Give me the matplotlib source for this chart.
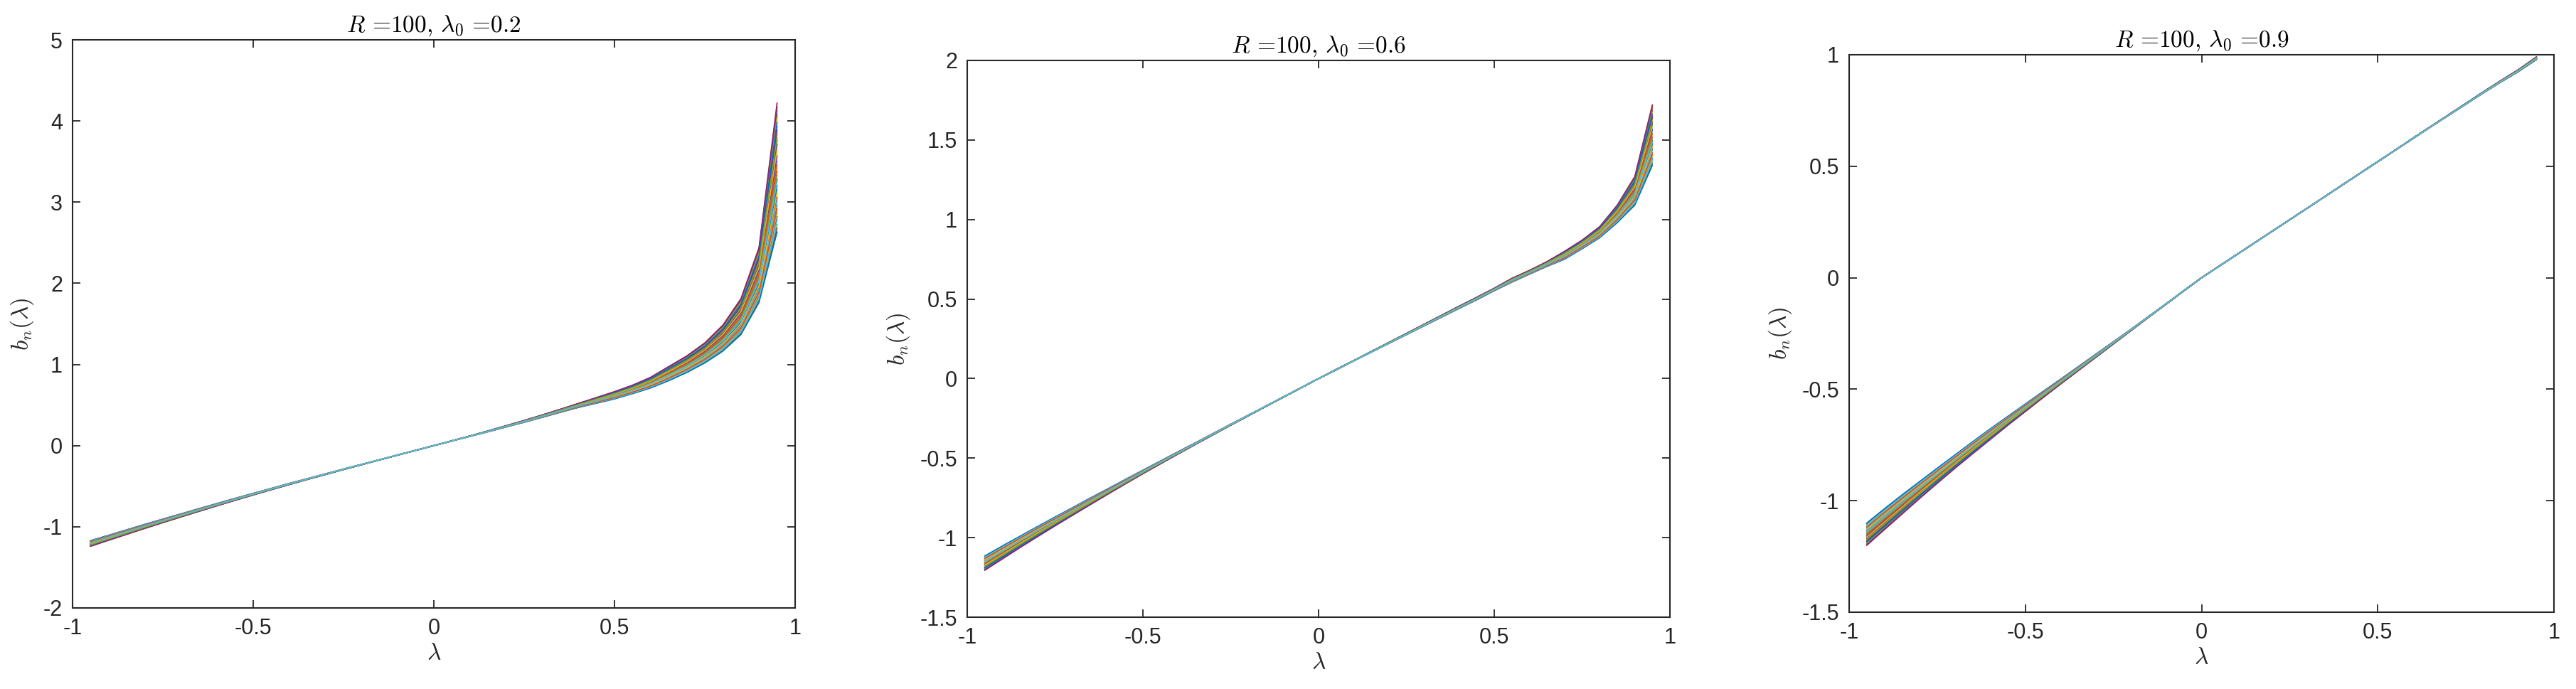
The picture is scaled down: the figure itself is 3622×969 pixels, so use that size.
import matplotlib
matplotlib.use("Agg")
import matplotlib.pyplot as plt
import numpy as np
from matplotlib.ticker import FuncFormatter, MultipleLocator

# ---------------- data ----------------
lam = [-0.95, -0.90, -0.85, -0.80, -0.75, -0.70, -0.65, -0.60, -0.55, -0.50,
       -0.45, -0.40, -0.35, -0.30, -0.25, -0.20, -0.15, -0.10, -0.05, 0.00,
       0.05, 0.10, 0.15, 0.20, 0.25, 0.30, 0.35, 0.40, 0.45, 0.50,
       0.55, 0.60, 0.65, 0.70, 0.75, 0.80, 0.85, 0.90, 0.95]

titles = [r"$R$ =100, $\lambda_0$ =0.2", r"$R$ =100, $\lambda_0$ =0.6", r"$R$ =100, $\lambda_0$ =0.9"]

# panel 1 (lambda0 = 0.2): lowest (A) and highest (B) curve of the family at the right end
p1_A = [-1.17, -1.104, -1.037, -0.970, -0.905, -0.841, -0.776, -0.713, -0.650, -0.588,
        -0.527, -0.466, -0.407, -0.348, -0.289, -0.231, -0.174, -0.115, -0.058, 0.0,
        0.057, 0.114, 0.171, 0.229, 0.288, 0.348, 0.410, 0.470, 0.522, 0.575,
        0.640, 0.710, 0.800, 0.900, 1.018, 1.164, 1.368, 1.763, 2.63]
p1_B = [-1.24, -1.166, -1.093, -1.020, -0.949, -0.879, -0.810, -0.741, -0.674, -0.608,
        -0.543, -0.480, -0.417, -0.356, -0.295, -0.235, -0.176, -0.117, -0.058, 0.0,
        0.059, 0.119, 0.181, 0.245, 0.310, 0.378, 0.448, 0.520, 0.592, 0.665,
        0.745, 0.842, 0.974, 1.105, 1.266, 1.485, 1.81, 2.44, 4.22]

# panel 2 (lambda0 = 0.6)
p2_A = [-1.115, -1.052, -0.991, -0.930, -0.870, -0.811, -0.751, -0.693, -0.634, -0.576,
        -0.518, -0.460, -0.403, -0.345, -0.287, -0.230, -0.173, -0.115, -0.058, 0.0,
        0.055, 0.111, 0.166, 0.221, 0.276, 0.331, 0.386, 0.441, 0.495, 0.552,
        0.606, 0.656, 0.705, 0.750, 0.816, 0.885, 0.98, 1.09, 1.34]
p2_B = [-1.205, -1.134, -1.063, -0.994, -0.926, -0.859, -0.793, -0.727, -0.662, -0.598,
        -0.536, -0.474, -0.413, -0.353, -0.293, -0.234, -0.175, -0.117, -0.058, 0.0,
        0.057, 0.113, 0.170, 0.227, 0.284, 0.341, 0.398, 0.455, 0.511, 0.568,
        0.630, 0.680, 0.735, 0.800, 0.870, 0.955, 1.09, 1.27, 1.72]

# panel 3 (lambda0 = 0.9)
p3_A = [-1.10, -1.036, -0.974, -0.914, -0.854, -0.795, -0.736, -0.678, -0.622, -0.566,
        -0.510, -0.455, -0.399, -0.343, -0.287, -0.231, -0.173, -0.116, -0.057, 0.0,
        0.052, 0.104, 0.156, 0.208, 0.260, 0.312, 0.364, 0.416, 0.468, 0.520,
        0.572, 0.624, 0.676, 0.727, 0.778, 0.829, 0.878, 0.925, 0.978]
p3_B = [-1.20, -1.130, -1.060, -0.990, -0.922, -0.855, -0.790, -0.726, -0.662, -0.600,
        -0.538, -0.477, -0.417, -0.357, -0.297, -0.237, -0.177, -0.118, -0.059, 0.0,
        0.052, 0.104, 0.156, 0.208, 0.260, 0.312, 0.364, 0.417, 0.469, 0.521,
        0.573, 0.626, 0.678, 0.730, 0.782, 0.834, 0.885, 0.934, 0.990]

# position of each curve n (in plotting order) between curve A (0) and curve B (1)
family_w = [0.12, 0.47, 0.76, 0.03, 0.33, 0.62, 0.91,
            0.68, 0.21, 0.88, 0.41, 0.06, 0.55, 0.27,
            0.36, 0.82, 0.15, 0.59, 0.94, 0.24, 0.71,
            0.00, 0.52, 0.30, 0.79, 0.44, 0.09, 1.00,
            0.85, 0.18, 0.64, 0.97, 0.73, 0.39]

ylims = [(-2, 5), (-1.5, 2), (-1.5, 1)]
ysteps = [1, 0.5, 0.5]

# ---------------- style ----------------
plt.rcParams['axes.unicode_minus'] = False
plt.rcParams['mathtext.fontset'] = 'cm'
matlab_colors = ['#0072BD', '#D95319', '#EDB120', '#7E2F8E', '#77AC30', '#4DBEEE', '#A2142F']
axcol = '#262626'

W, H = 3622, 969
fig = plt.figure(figsize=(W / 100, H / 100), dpi=100)

boxes = [(102, 56, 1118, 855), (1360, 85, 2348, 868), (2600, 77, 3591, 861)]
curves = [(p1_A, p1_B), (p2_A, p2_B), (p3_A, p3_B)]

fmt = FuncFormatter(lambda v, p: ('%g' % round(v, 6)))

x = np.array(lam)
for i in range(3):
    l, t, r, b = boxes[i]
    ax = fig.add_axes([l / W, (H - b) / H, (r - l) / W, (b - t) / H])
    A = np.array(curves[i][0]); B = np.array(curves[i][1])
    for k, w in enumerate(family_w):
        ax.plot(x, A + w * (B - A), color=matlab_colors[k % 7], lw=1.2)
    ax.set_xlim(-1, 1)
    ax.set_ylim(*ylims[i])
    ax.xaxis.set_major_locator(MultipleLocator(0.5))
    ax.yaxis.set_major_locator(MultipleLocator(ysteps[i]))
    ax.xaxis.set_major_formatter(fmt)
    ax.yaxis.set_major_formatter(fmt)
    ax.tick_params(direction='in', length=8, width=1.3, colors=axcol,
                   top=True, right=True, labelsize=22, pad=10)
    for lab in ax.get_xticklabels() + ax.get_yticklabels():
        lab.set_fontfamily('Liberation Sans')
    for s in ax.spines.values():
        s.set_color(axcol)
        s.set_linewidth(1.5)
    ax.set_title(titles[i], fontsize=24, fontfamily='cmr10', pad=8, color='black')
    ax.set_xlabel(r'$\lambda$', fontsize=24, labelpad=2, color=axcol)
    ax.set_ylabel(r'$b_n(\lambda)$', fontsize=24, labelpad=8, color=axcol)

fig.savefig('out.png', dpi=100, facecolor='white')
